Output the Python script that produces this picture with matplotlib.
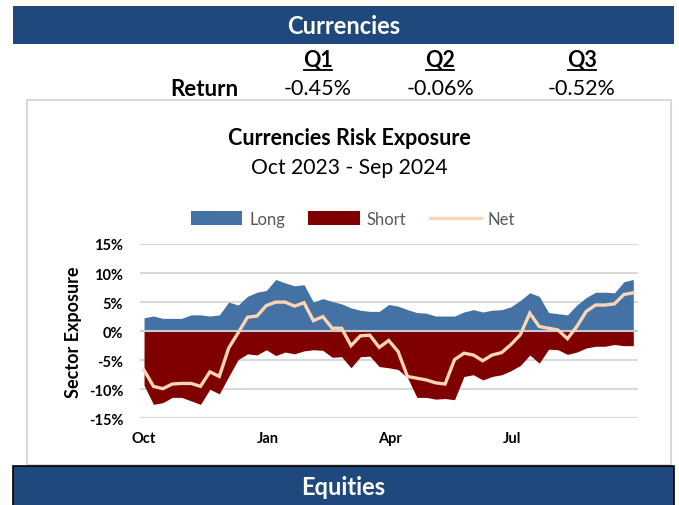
import numpy as np
import pandas as pd
import matplotlib
matplotlib.use('Agg')
import matplotlib.pyplot as plt
from matplotlib.patches import Rectangle
from matplotlib.lines import Line2D
from matplotlib.ticker import FuncFormatter

plt.rcParams['font.family'] = ['Lato', 'DejaVu Sans']

# weekly exposure, % of capital
weeks = pd.date_range('2023-10-01', '2024-09-29', freq='7D')

long_exp = [2.3, 2.6, 2.2, 2.2, 2.2, 2.8, 2.8, 2.6, 2.8, 5.0,
            4.5, 6.0, 6.7, 7.0, 8.9, 8.3, 7.8, 8.0, 5.0, 5.6,
            5.1, 4.7, 4.0, 3.6, 3.4, 3.4, 4.6, 4.3, 3.7, 3.2,
            3.1, 2.6, 2.6, 2.6, 3.3, 3.7, 3.3, 3.6, 3.7, 4.2,
            5.3, 6.6, 6.0, 3.2, 3.0, 2.8, 4.5, 5.8, 6.7, 6.7,
            6.6, 8.5, 8.9]

short_exp = [-9.3, -12.6, -12.3, -11.4, -11.4, -12.0, -12.6, -10.0, -10.8, -7.8,
             -4.9, -3.9, -4.1, -3.2, -4.2, -3.6, -3.9, -3.4, -3.2, -3.3,
             -4.5, -4.4, -6.3, -4.4, -4.3, -6.1, -6.3, -6.6, -8.0, -11.4,
             -11.4, -11.7, -11.6, -11.8, -7.8, -7.5, -8.4, -7.8, -7.5, -6.8,
             -5.9, -4.1, -5.5, -3.1, -3.2, -4.0, -3.6, -2.9, -2.6, -2.6,
             -2.3, -2.5, -2.5]

net_exp = [-6.7, -9.5, -9.9, -9.1, -9.0, -9.0, -9.5, -7.0, -7.8, -2.9,
           -0.3, 2.4, 2.6, 4.4, 5.0, 5.0, 4.3, 4.9, 1.8, 2.5,
           0.5, 0.5, -2.5, -0.8, -0.7, -2.8, -1.6, -3.5, -7.8, -8.1,
           -8.4, -8.9, -9.1, -4.9, -3.8, -4.1, -5.1, -4.1, -3.7, -2.3,
           -0.6, 3.1, 0.8, 0.5, 0.2, -1.3, 0.8, 3.4, 4.5, 4.5,
           4.7, 6.3, 6.6]

tick_dates = pd.to_datetime(['2023-10-01', '2024-01-01', '2024-04-01', '2024-07-01'])
tick_labels = ['Oct', 'Jan', 'Apr', 'Jul']

quarters = ['Q1', 'Q2', 'Q3']
returns = ['-0.45%', '-0.06%', '-0.52%']

W, H = 679, 506
NAVY = '#1F497D'
LONG_C = '#4472A4'
SHORT_C = '#7F0000'
NET_C = '#FCD5B4'
GRID_C = '#D9D9D9'


def fx(x):
    return x / W


def fy(y):
    return 1 - y / H


fig = plt.figure(figsize=(W / 100, H / 100), dpi=100)

# header / footer bars and the chart frame
fig.patches.append(Rectangle((fx(13), fy(45)), fx(674) - fx(13), fy(7) - fy(45),
                             transform=fig.transFigure, facecolor=NAVY, edgecolor='none',
                             zorder=-2))
fig.patches.append(Rectangle((fx(27), fy(466)), fx(671) - fx(27), fy(101) - fy(466),
                             transform=fig.transFigure, facecolor='white',
                             edgecolor=GRID_C, lw=1.5, zorder=-2))
fig.patches.append(Rectangle((fx(13), fy(510)), fx(674) - fx(13), fy(467) - fy(510),
                             transform=fig.transFigure, facecolor=NAVY,
                             edgecolor='black', lw=1.2, zorder=-2))

fig.text(fx(343.5), fy(26), 'Currencies', color='white', fontsize=17,
         fontweight='bold', ha='center', va='center')
fig.text(fx(343.5), fy(488), 'Equities', color='white', fontsize=17,
         fontweight='bold', ha='center', va='center')

q_x = [318, 440, 582]
for q, r, x in zip(quarters, returns, q_x):
    fig.text(fx(x), fy(61), q, fontsize=15.5, fontweight='bold', ha='center', va='center')
    fig.add_artist(Line2D([fx(x - 14), fx(x + 14)], [fy(70.5), fy(70.5)],
                          transform=fig.transFigure, color='black', lw=1.3))
    fig.text(fx(x), fy(89), r, fontsize=15.5, ha='center', va='center')
fig.text(fx(238), fy(89), 'Return', fontsize=16, fontweight='bold', ha='right', va='center')

fig.text(fx(349), fy(139), 'Currencies Risk Exposure', fontsize=15.5,
         fontweight='bold', ha='center', va='center')
fig.text(fx(349), fy(168), 'Oct 2023 - Sep 2024', fontsize=15.2, ha='center', va='center')

# plot area
ax = fig.add_axes([fx(140), fy(419.3), fx(638) - fx(140), fy(245) - fy(419.3)])
ax.set_zorder(2)
ax.set_facecolor('none')
ax.fill_between(weeks, 0, long_exp, color=LONG_C, lw=0, label='Long', zorder=2)
ax.fill_between(weeks, 0, short_exp, color=SHORT_C, lw=0, label='Short', zorder=2)
ax.axhline(0, color='#C8CDD4', lw=1.5, zorder=3)
ax.plot(weeks, net_exp, color=NET_C, lw=2.4, label='Net', zorder=4,
        solid_joinstyle='miter')

ax.set_ylim(-15, 15)
ax.set_yticks(np.arange(-15, 16, 5))
ax.yaxis.set_major_formatter(FuncFormatter(lambda v, p: f'{v:.0f}%'))
ax.set_xlim(weeks[0] - pd.Timedelta(days=3), weeks[-1] + pd.Timedelta(days=3.5))
ax.set_xticks(tick_dates)
ax.set_xticklabels(tick_labels)
ax.grid(axis='y', color=GRID_C, lw=1.5, zorder=0)
ax.set_axisbelow(True)
for s in ax.spines.values():
    s.set_visible(False)
ax.tick_params(length=0)
ax.tick_params(axis='y', pad=12)
ax.tick_params(axis='x', pad=9)
for lab in ax.get_xticklabels() + ax.get_yticklabels():
    lab.set_fontweight('bold')
    lab.set_fontsize(10.5)

fig.text(fx(73), fy(332), 'Sector Exposure', rotation=90, fontsize=13,
         fontweight='bold', ha='center', va='center')

ax.legend(loc='center', bbox_to_anchor=(fx(353), fy(220)), bbox_transform=fig.transFigure,
          ncol=3, frameon=False, fontsize=12, handlelength=3.1, handleheight=0.9,
          columnspacing=1.4, handletextpad=0.4, labelcolor='#595959')

fig.savefig('out.png', dpi=100)
